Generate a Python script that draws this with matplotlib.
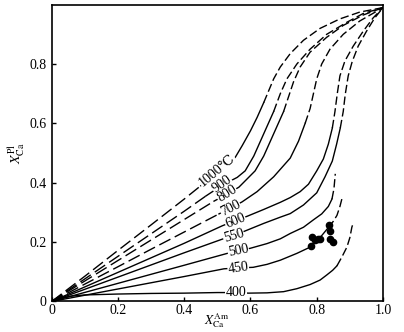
import matplotlib.pyplot as plt

plt.rcParams['font.family'] = ['Liberation Serif', 'DejaVu Serif', 'DejaVu Sans']
plt.rcParams['mathtext.fontset'] = 'stix'

# isotherm labels
temps = ['1000℃', '900', '800', '700', '600', '550', '500', '450', '400']

# isotherms (X_Ca^Am, X_Ca^Pl)
x_1000 = [0, 0.1, 0.2, 0.3, 0.4, 0.45, 0.5, 0.55, 0.575, 0.6, 0.62, 0.64, 0.655, 0.67, 0.69, 0.72, 0.76, 0.81, 0.87, 0.93, 1.0]
y_1000 = [0, 0.085, 0.172, 0.258, 0.345, 0.39, 0.435, 0.478, 0.525, 0.575, 0.62, 0.67, 0.71, 0.75, 0.79, 0.835, 0.88, 0.92, 0.952, 0.975, 0.99]

x_900 = [0, 0.1, 0.2, 0.3, 0.4, 0.465, 0.515, 0.56, 0.584, 0.61, 0.63, 0.65, 0.67, 0.69, 0.71, 0.74, 0.78, 0.83, 0.89, 0.94, 1.0]
y_900 = [0, 0.076, 0.152, 0.228, 0.304, 0.355, 0.392, 0.418, 0.44, 0.49, 0.54, 0.59, 0.64, 0.70, 0.75, 0.80, 0.85, 0.90, 0.94, 0.97, 0.99]

x_800 = [0, 0.1, 0.2, 0.3, 0.4, 0.49, 0.53, 0.565, 0.614, 0.64, 0.66, 0.68, 0.70, 0.715, 0.73, 0.75, 0.78, 0.83, 0.88, 0.94, 1.0]
y_800 = [0, 0.069, 0.138, 0.207, 0.276, 0.338, 0.362, 0.385, 0.44, 0.49, 0.54, 0.59, 0.64, 0.69, 0.74, 0.79, 0.84, 0.89, 0.93, 0.965, 0.99]

x_700 = [0, 0.1, 0.2, 0.3, 0.4, 0.505, 0.54, 0.574, 0.62, 0.67, 0.72, 0.745, 0.765, 0.78, 0.79, 0.80, 0.815, 0.84, 0.88, 0.93, 1.0]
y_700 = [0, 0.0585, 0.117, 0.176, 0.234, 0.295, 0.315, 0.335, 0.37, 0.42, 0.483, 0.54, 0.6, 0.65, 0.70, 0.75, 0.80, 0.85, 0.90, 0.945, 0.99]

x_600 = [0, 0.1, 0.2, 0.3, 0.4, 0.515, 0.554, 0.59, 0.64, 0.69, 0.72, 0.75, 0.775, 0.80, 0.82, 0.835, 0.847, 0.855, 0.862, 0.87, 0.885, 0.91, 0.94, 0.97, 1.0]
y_600 = [0, 0.049, 0.098, 0.147, 0.196, 0.255, 0.272, 0.287, 0.31, 0.334, 0.35, 0.37, 0.395, 0.44, 0.48, 0.53, 0.584, 0.64, 0.70, 0.76, 0.81, 0.86, 0.91, 0.955, 0.99]

x_550 = [0, 0.1, 0.2, 0.3, 0.4, 0.515, 0.548, 0.585, 0.64, 0.69, 0.72, 0.76, 0.80, 0.825, 0.847, 0.86, 0.871, 0.88, 0.886, 0.895, 0.907, 0.925, 0.95, 0.975, 1.0]
y_550 = [0, 0.041, 0.082, 0.123, 0.164, 0.21, 0.222, 0.238, 0.263, 0.284, 0.296, 0.325, 0.366, 0.42, 0.473, 0.53, 0.584, 0.64, 0.697, 0.76, 0.808, 0.86, 0.91, 0.955, 0.99]

x_500 = [0, 0.1, 0.2, 0.3, 0.4, 0.53, 0.563, 0.599, 0.65, 0.69, 0.72, 0.76, 0.79, 0.815, 0.835, 0.846, 0.852, 0.856]
y_500 = [0, 0.0305, 0.061, 0.0915, 0.122, 0.162, 0.172, 0.179, 0.195, 0.211, 0.229, 0.25, 0.275, 0.295, 0.32, 0.345, 0.38, 0.43]

x_450 = [0, 0.1, 0.2, 0.3, 0.4, 0.52, 0.563, 0.608, 0.65, 0.69, 0.74, 0.78, 0.81, 0.835, 0.85, 0.861, 0.87, 0.876]
y_450 = [0, 0.021, 0.042, 0.063, 0.084, 0.11, 0.113, 0.115, 0.125, 0.139, 0.162, 0.183, 0.215, 0.249, 0.27, 0.29, 0.32, 0.346]

x_400 = [0, 0.03, 0.06, 0.1, 0.2, 0.3, 0.4, 0.5, 0.557, 0.594, 0.65, 0.7, 0.74, 0.78, 0.81, 0.83, 0.848, 0.861, 0.876, 0.891, 0.9, 0.906, 0.911]
y_400 = [0, 0.012, 0.018, 0.022, 0.025, 0.027, 0.028, 0.03, 0.03, 0.028, 0.029, 0.033, 0.043, 0.057, 0.072, 0.089, 0.105, 0.12, 0.15, 0.183, 0.215, 0.25, 0.267]

# measured samples
sample_x = [0.782, 0.785, 0.795, 0.803, 0.811, 0.836, 0.839, 0.841, 0.85]
sample_y = [0.186, 0.217, 0.206, 0.21, 0.211, 0.258, 0.237, 0.211, 0.202]

curves = [(x_1000, y_1000), (x_900, y_900), (x_800, y_800), (x_700, y_700), (x_600, y_600),
          (x_550, y_550), (x_500, y_500), (x_450, y_450), (x_400, y_400)]

# where each curve turns solid (x) and dashed again (y)
solid_from = [0.45, 0.465, 0.49, 0.505, 0, 0, 0, 0, 0]
dash_above = [0.65, 0.6, 0.64, 0.6, 0.584, 0.584, 0.345, 0.249, 0.12]
label_pos = [(0.498, 0.443), (0.514, 0.394), (0.529, 0.362), (0.539, 0.315), (0.554, 0.272),
             (0.549, 0.221), (0.563, 0.172), (0.563, 0.113), (0.557, 0.031)]
label_rot = [40, 35, 32, 27, 22, 16, 11, 8, 0]

fig = plt.figure(figsize=(4.04, 3.32), dpi=100)
ax = fig.add_axes([0.128, 0.092, 0.82, 0.894])

for (xs, ys), sx, dy in zip(curves, solid_from, dash_above):
    i0 = next(i for i, v in enumerate(xs) if v >= sx)
    i1 = next((i for i, v in enumerate(ys) if v >= dy), len(ys) - 1)
    if i0 > 0:
        ax.plot(xs[:i0 + 1], ys[:i0 + 1], color='k', lw=1.0, dashes=(9, 3.5))
    ax.plot(xs[i0:i1 + 1], ys[i0:i1 + 1], color='k', lw=1.0)
    if i1 < len(xs) - 1:
        ax.plot(xs[i1:], ys[i1:], color='k', lw=1.0, dashes=(6, 2.5))

ax.plot(sample_x, sample_y, 'o', color='k', ms=4.5)

for t, (lx, ly), r in zip(temps, label_pos, label_rot):
    ax.text(lx, ly, t, rotation=r, rotation_mode='anchor', ha='center', va='center', fontsize=10,
            bbox=dict(facecolor='white', edgecolor='none', pad=0.3))

ax.set_xlim(0, 1.0)
ax.set_ylim(0, 1.0)
ax.set_xticks([0, 0.2, 0.4, 0.6, 0.8, 1.0])
ax.set_xticklabels(['0', '0.2', '0.4', '0.6', '0.8', '1.0'])
ax.set_yticks([0, 0.2, 0.4, 0.6, 0.8])
ax.set_yticklabels(['0', '0.2', '0.4', '0.6', '0.8'])
ax.tick_params(direction='in', length=3, width=1, labelsize=10)
ax.tick_params(axis='x', pad=2)
for s in ax.spines.values():
    s.set_linewidth(1.2)

ax.set_xlabel(r'$X_{\rm Ca}^{\rm Am}$', fontsize=9.5, labelpad=-4)
ax.set_ylabel(r'$X_{\rm Ca}^{\rm Pl}$', fontsize=10, labelpad=2)

plt.savefig('out.png', dpi=100)
